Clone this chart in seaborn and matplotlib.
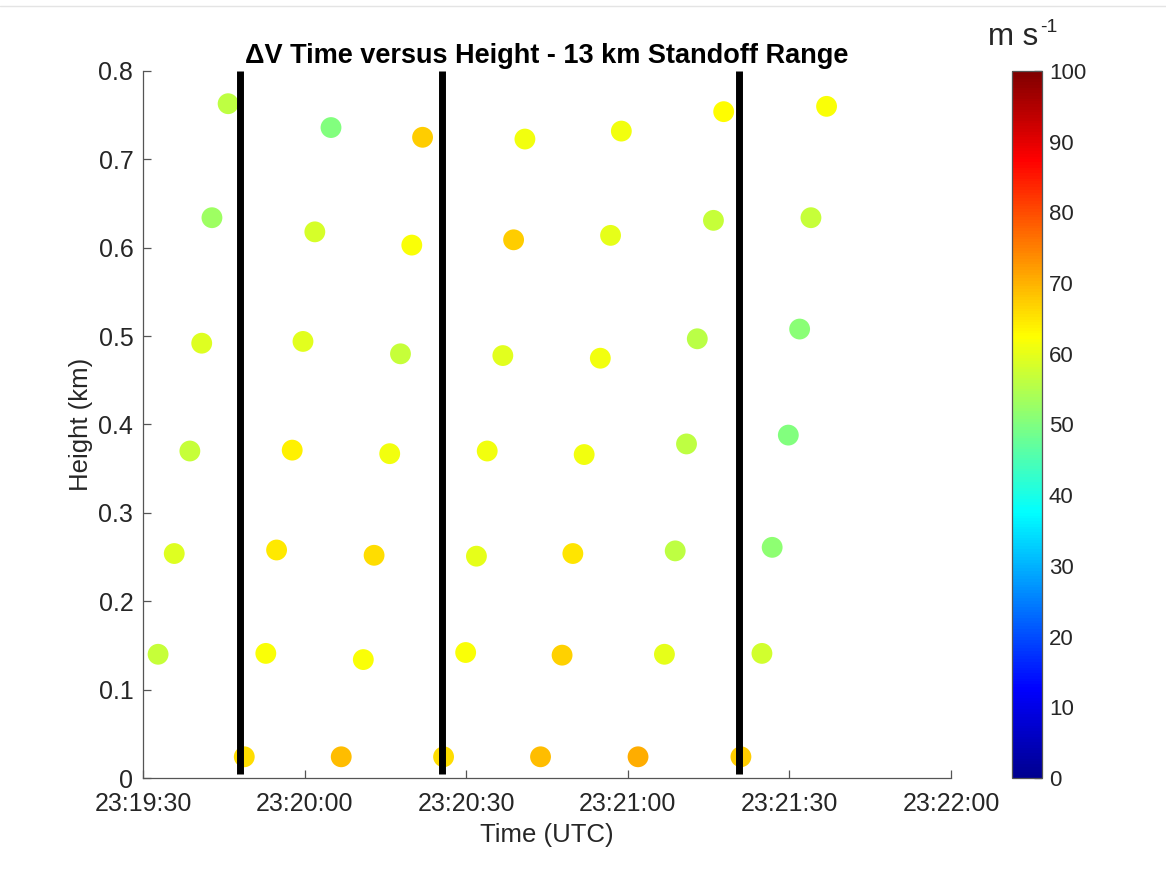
import matplotlib
matplotlib.use("Agg")
import matplotlib.pyplot as plt
import matplotlib.dates as mdates
import matplotlib.ticker as mticker
from matplotlib.colors import LinearSegmentedColormap, Normalize
from matplotlib.cm import ScalarMappable
from matplotlib.lines import Line2D
import pandas as pd
import seaborn as sns

# Sample times (UTC) of each range-gate estimate, in scan order
scan_times = [
    "23:19:32.8", "23:19:35.8", "23:19:38.7", "23:19:40.9", "23:19:42.8", "23:19:45.8",
    "23:19:48.8", "23:19:52.8", "23:19:54.8", "23:19:57.7", "23:19:59.7", "23:20:01.9", "23:20:04.9",
    "23:20:06.8", "23:20:10.9", "23:20:12.9", "23:20:15.8", "23:20:17.8", "23:20:19.9", "23:20:21.9",
    "23:20:25.8", "23:20:29.9", "23:20:31.9", "23:20:33.9", "23:20:36.8", "23:20:38.8", "23:20:40.9",
    "23:20:43.8", "23:20:47.8", "23:20:49.8", "23:20:51.9", "23:20:54.9", "23:20:56.8", "23:20:58.8",
    "23:21:01.9", "23:21:06.8", "23:21:08.8", "23:21:10.9", "23:21:12.9", "23:21:15.9", "23:21:17.8",
    "23:21:21.0", "23:21:24.9", "23:21:26.8", "23:21:29.8", "23:21:31.9", "23:21:34.0", "23:21:36.9",
]

# Height above ground of each estimate (km)
heights_km = [
    0.140, 0.254, 0.370, 0.492, 0.634, 0.763,
    0.024, 0.141, 0.258, 0.371, 0.494, 0.618, 0.736,
    0.024, 0.134, 0.252, 0.367, 0.480, 0.603, 0.725,
    0.024, 0.142, 0.251, 0.370, 0.478, 0.609, 0.723,
    0.024, 0.139, 0.254, 0.366, 0.475, 0.614, 0.732,
    0.024, 0.140, 0.257, 0.378, 0.497, 0.631, 0.754,
    0.024, 0.141, 0.261, 0.388, 0.508, 0.634, 0.760,
]

# Delta-V magnitude (m/s)
delta_v = [
    57, 59, 57, 59, 53, 56,
    66, 62, 64.5, 64, 59.5, 58.5, 50,
    69, 62, 66, 61, 57, 62, 67.5,
    66, 62, 60, 61, 59.5, 67.5, 61,
    69, 67, 65, 61, 61, 60, 61,
    70.5, 60, 56, 56, 55.5, 57, 62.5,
    67.5, 58, 51.5, 50, 51, 57, 62,
]

# Times of the scan boundaries marked by vertical bars
marker_times = ["23:19:48.0", "23:20:25.6", "23:21:20.6"]

time_range = ("23:19:30", "23:22:00")
height_ticks = [0, 0.1, 0.2, 0.3, 0.4, 0.5, 0.6, 0.7, 0.8]
cbar_ticks = [0, 10, 20, 30, 40, 50, 60, 70, 80, 90, 100]

day = "2019-06-01 "


def to_dt(values):
    return pd.to_datetime([day + v for v in values])


df = pd.DataFrame({
    "time": to_dt(scan_times),
    "height": heights_km,
    "dv": delta_v,
})

# MATLAB-style jet colour map
jet = LinearSegmentedColormap("matlab_jet", {
    "red":   [(0, 0, 0), (0.375, 0, 0), (0.625, 1, 1), (0.875, 1, 1), (1, 0.5, 0.5)],
    "green": [(0, 0, 0), (0.125, 0, 0), (0.375, 1, 1), (0.625, 1, 1), (0.875, 0, 0), (1, 0, 0)],
    "blue":  [(0, 0.5625, 0.5625), (0.125, 1, 1), (0.375, 1, 1), (0.625, 0, 0), (1, 0, 0)],
}, N=256)
norm = Normalize(0, 100)

sns.set_theme(style="ticks")
plt.rcParams["font.family"] = ["Liberation Sans", "DejaVu Sans"]

ink = "#262626"
W, H = 1166, 869
fig = plt.figure(figsize=(W / 100, H / 100), dpi=100)
ax = fig.add_axes([143 / W, 1 - 778 / H, 808 / W, 707 / H])

sns.scatterplot(data=df, x="time", y="height", hue="dv", palette=jet,
                hue_norm=(0, 100), s=225, linewidth=0, legend=False,
                ax=ax, zorder=2)

ax.vlines(to_dt(marker_times), 0.004, 0.8, color="black", linewidth=5,
          zorder=3, clip_on=False)

t0, t1 = to_dt(time_range)
ax.set_xlim(t0, t1)
ax.set_ylim(0, 0.8)
ax.set_yticks(height_ticks)
ax.yaxis.set_major_formatter(mticker.FuncFormatter(lambda v, p: f"{v:g}"))
ax.xaxis.set_major_locator(mdates.SecondLocator(bysecond=[0, 30]))
ax.xaxis.set_major_formatter(mdates.DateFormatter("%H:%M:%S"))

sns.despine(ax=ax)
for side in ("left", "bottom"):
    ax.spines[side].set_color("#555555")
    ax.spines[side].set_linewidth(0.9)
ax.tick_params(direction="in", length=6, width=0.9, color="#555555",
               labelsize=18, labelcolor=ink)
ax.tick_params(axis="x", pad=10)
ax.tick_params(axis="y", pad=7)

ax.set_xlabel("Time (UTC)", fontsize=18.5, color=ink, labelpad=5)
ax.set_ylabel("Height (km)", fontsize=18.5, color=ink, labelpad=4)
ax.set_title("\u0394V Time versus Height - 13 km Standoff Range",
             fontsize=19.5, fontweight="bold", color="black", pad=6)

cax = fig.add_axes([1012 / W, 1 - 778 / H, 30 / W, 707 / H])
cb = fig.colorbar(ScalarMappable(norm=norm, cmap=jet), cax=cax, ticks=cbar_ticks)
cb.outline.set_edgecolor("#555555")
cb.outline.set_linewidth(0.9)
cax.tick_params(direction="in", length=6, width=0.9, color=ink,
                labelsize=16, labelcolor=ink, pad=5)

# Unit label above the colour bar, with a raised exponent
fig.text(988 / W, 1 - 45 / H, "m s", fontsize=22.5, color=ink,
         ha="left", va="baseline")
fig.text(1040 / W, 1 - 32 / H, "-1", fontsize=14, color=ink,
         ha="left", va="baseline")

# Thin frame rule along the top of the figure window
fig.add_artist(Line2D([0, 1], [1 - 6 / H, 1 - 6 / H], transform=fig.transFigure,
                      color="#e4e4e4", linewidth=1))

fig.savefig("out.png", dpi=100)
